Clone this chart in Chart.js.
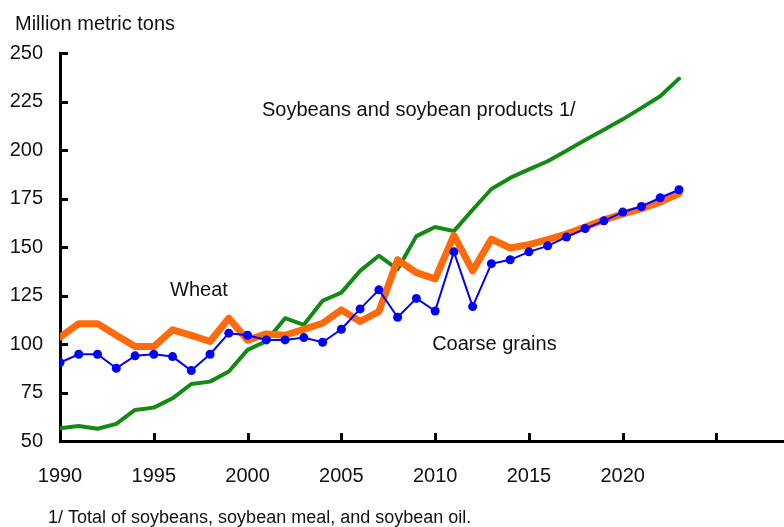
<!DOCTYPE html>
<html>
<head>
<meta charset="utf-8">
<script src="https://cdn.jsdelivr.net/npm/chart.js@4/dist/chart.umd.min.js"></script>
<style>
  body { margin: 0; background: #fff; }
  #wrap { width: 784px; height: 527px; }
</style>
</head>
<body>
<div id="wrap"><canvas id="grainChart" width="784" height="527"></canvas></div>
<script>
// values, million metric tons
const years = [1990,1991,1992,1993,1994,1995,1996,1997,1998,1999,2000,2001,2002,2003,2004,2005,2006,2007,2008,2009,2010,2011,2012,2013,2014,2015,2016,2017,2018,2019,2020,2021,2022,2023];
const wheat = [103.5,110.5,110.5,104.5,98.7,98.7,107.3,104.4,101.3,113.3,102.0,105.2,104.5,107.6,110.7,117.6,111.6,116.7,143.4,136.8,133.6,156.0,137.7,154.1,149.5,151.2,153.8,156.7,160.3,164.0,167.0,169.8,173.2,177.5];
const coarseGrains = [90.4,94.7,94.7,87.5,93.9,94.7,93.5,86.3,94.7,105.6,104.5,102.1,102.1,103.3,100.9,107.6,118.1,127.9,113.8,123.5,117.0,147.5,119.3,141.4,143.4,147.5,150.6,155.1,159.5,163.5,168.0,170.9,175.4,179.5];
const soybeans = [56.5,57.7,56.3,58.8,66.0,67.2,72.0,79.4,80.6,85.8,97.0,101.5,113.3,109.9,122.3,126.5,137.7,145.5,138.5,155.6,160.3,158.2,169.2,179.9,185.6,190.0,194.2,199.6,205.2,210.5,215.8,221.7,227.7,236.8];

const xTicks = [1990,1995,2000,2005,2010,2015,2020,2025];
const xLabelsUpTo = 2020;
const yTicks = [50,75,100,125,150,175,200,225,250];

const yTitle = "Million metric tons";
const footnote = "1/ Total of soybeans, soybean meal, and soybean oil.";
// series labels placed in data space [year, value]
const seriesLabels = [
    {text: "Soybeans and soybean products 1/", at: [2000.77, 217.4]},
    {text: "Wheat", at: [1995.87, 124.5]},
    {text: "Coarse grains", at: [2009.84, 96.7]}
];

const FONT = 'Arial, "Liberation Sans", sans-serif';

function toPoints(vals){
    return years.map((yr, i) => ({x: yr, y: vals[i]}));
}

// inward tick marks + text that sits outside the library's own boxes
const extras = {
    id: 'extras',
    afterDraw(chart){
        const ctx = chart.ctx;
        const xs = chart.scales.x, ys = chart.scales.y;
        const area = chart.chartArea;
        ctx.save();
        ctx.strokeStyle = '#000';
        ctx.lineWidth = 3;
        ctx.beginPath();
        for (let t of xTicks){
            if (t === xs.min) continue;
            let px = Math.round(xs.getPixelForValue(t)) + 0.5;
            ctx.moveTo(px, area.bottom);
            ctx.lineTo(px, area.bottom - 8);
        }
        for (let t of yTicks){
            if (t === ys.min) continue;
            let py = Math.round(ys.getPixelForValue(t)) + 0.5;
            ctx.moveTo(area.left, py);
            ctx.lineTo(area.left + 8, py);
        }
        ctx.stroke();

        ctx.fillStyle = '#111';
        ctx.textBaseline = 'alphabetic';
        ctx.textAlign = 'left';
        ctx.font = '20px ' + FONT;
        ctx.fillText(yTitle, 15, 30);
        for (let lab of seriesLabels){
            ctx.fillText(lab.text, xs.getPixelForValue(lab.at[0]), ys.getPixelForValue(lab.at[1]));
        }
        ctx.font = '18px ' + FONT;
        ctx.fillText(footnote, 48, 523);
        ctx.restore();
    }
};

const chartEl = document.getElementById('grainChart').getContext('2d');

let grainChart = new Chart(chartEl, {
    type: 'line',
    data: {
        datasets: [
            {label: 'Soybeans and soybean products', data: toPoints(soybeans), borderColor: '#138a13', borderWidth: 4, pointRadius: 0, order: 3},
            {label: 'Wheat', data: toPoints(wheat), borderColor: '#ff6a0d', borderWidth: 7, pointRadius: 0, order: 2},
            {label: 'Coarse grains', data: toPoints(coarseGrains), borderColor: '#0000ff', borderWidth: 2,
             pointRadius: 4.5, pointBackgroundColor: '#0000ff', pointBorderWidth: 0, order: 1}
        ]
    },
    options: {
        responsive: false,
        animation: false,
        devicePixelRatio: 1,
        elements: {line: {tension: 0, borderJoinStyle: 'round', borderCapStyle: 'round'}},
        layout: {autoPadding: false, padding: {top: 53, right: 0, bottom: 0, left: 0}},
        plugins: {legend: {display: false}, tooltip: {enabled: false}, title: {display: false}},
        scales: {
            x: {
                type: 'linear',
                min: 1990,
                max: 2028.6,
                afterFit: (s) => { s.height = 86; },
                afterBuildTicks: (s) => { s.ticks = xTicks.map(v => ({value: v})); },
                grid: {display: false},
                border: {display: true, color: '#000', width: 3},
                ticks: {
                    color: '#111', padding: 15, maxRotation: 0, autoSkip: false,
                    font: {family: FONT, size: 20},
                    callback: (v) => v <= xLabelsUpTo ? String(v) : ''
                }
            },
            y: {
                min: 50,
                max: 250,
                afterFit: (s) => { s.width = 60; },
                afterBuildTicks: (s) => { s.ticks = yTicks.map(v => ({value: v})); },
                grid: {display: false},
                border: {display: true, color: '#000', width: 3},
                ticks: {color: '#111', padding: 9, font: {family: FONT, size: 20}}
            }
        }
    },
    plugins: [extras]
});
</script>
</body>
</html>
